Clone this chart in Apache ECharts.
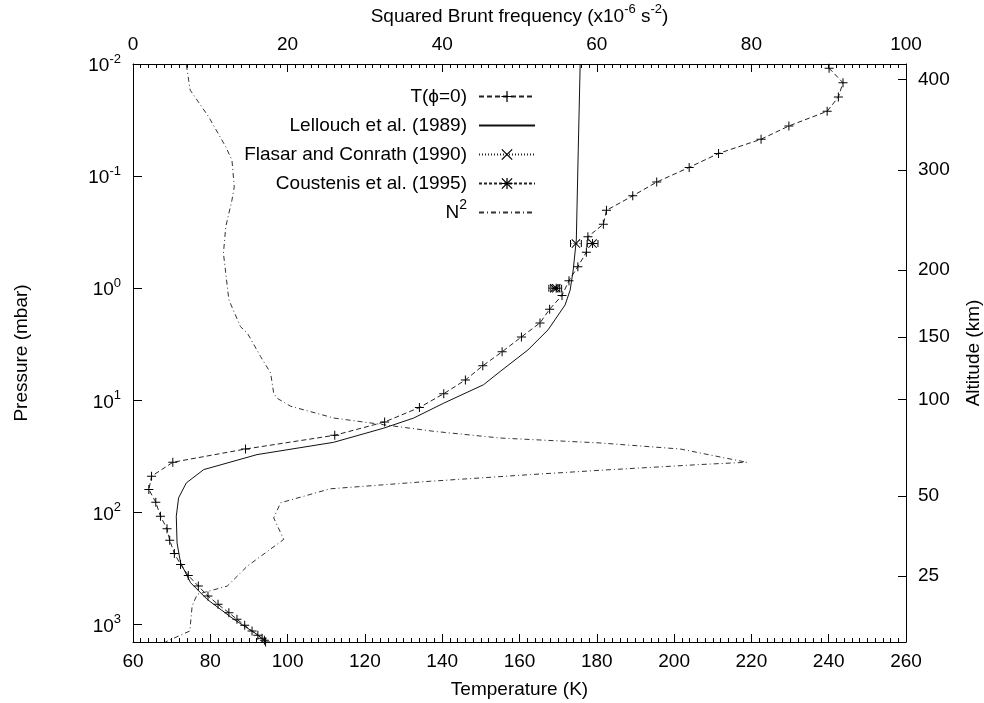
<!DOCTYPE html>
<html>
<head>
<meta charset="utf-8">
<script src="https://cdn.jsdelivr.net/npm/echarts@6/dist/echarts.min.js"></script>
<style>
  html, body { margin: 0; padding: 0; background: #fff; }
  #chart { width: 984px; height: 703px; }
</style>
</head>
<body>
<div id="chart"></div>
<script>
// Model temperature profile T(phi=0): temperature (K) and pressure (mbar)
const modelTemp = [240.1, 243.7, 242.5, 239.6, 229.7, 222.5, 211.5, 203.9, 195.5, 189.3,
  182.5, 181.7, 177.7, 177.3, 175.1, 172.8, 171.0, 167.8, 165.3, 160.5,
  155.5, 150.5, 146.0, 140.4, 134.1, 125.1, 112.2, 89.1, 70.3, 64.8,
  64.1, 65.9, 67.1, 68.8, 69.5, 70.7, 72.3, 74.3, 76.9, 79.4,
  82.0, 84.8, 86.9, 88.9, 90.8, 92.3, 93.4, 94.0, 94.3];
const modelPres = [0.0109, 0.0147, 0.0197, 0.0264, 0.0357, 0.0469, 0.0628, 0.0836, 0.113, 0.150,
  0.202, 0.269, 0.347, 0.478, 0.642, 0.856, 1.16, 1.54, 2.04, 2.72,
  3.69, 4.92, 6.59, 8.73, 11.6, 15.6, 20.5, 27.2, 35.7, 47.6,
  62.5, 81.1, 108, 140, 177, 232, 291, 365, 454, 557,
  661, 784, 899, 1017, 1143, 1249, 1327, 1380, 1430];

// Lellouch et al. (1989) profile
const lellouchTemp = [175.7, 175.2, 174.7, 173.9, 173.1, 171.8, 167.4, 162.2, 155.0, 150.7,
  140.4, 132.6, 124.9, 111.9, 92.1, 78.3, 73.8, 71.8, 71.2, 71.4,
  72.3, 74.9, 79.2, 86.1, 92.1, 94.4];
const lellouchPres = [0.01, 0.0588, 0.371, 0.687, 1.04, 1.41, 2.35, 3.55, 5.53, 7.26,
  10.6, 14.4, 17.7, 23.7, 30.5, 41.5, 54.5, 74.1, 108, 187,
  281, 424, 597, 899, 1225, 1430];

// Flasar and Conrath (1990) measurements with temperature error
const flasarTemp = [174.6, 169.0];
const flasarPres = [0.4, 1.0];
const flasarErr = [1.4, 1.4];

// Coustenis et al. (1995) measurements with temperature error
const coustenisTemp = [178.9, 169.5];
const coustenisPres = [0.4, 1.0];
const coustenisErr = [1.4, 1.4];

// Squared Brunt frequency N^2 (x10^-6 s^-2)
const bruntN2 = [6.9, 7.4, 9.8, 12.0, 12.8, 13.1, 12.8, 12.0, 11.7, 12.4,
  13.9, 14.8, 16.5, 17.8, 18.2, 18.6, 20.4, 26.0, 32.4, 38.9,
  47.5, 60.4, 70.8, 79.4, 73.4, 60.4, 51.4, 38.5, 25.5, 19.1,
  18.2, 19.5, 14.8, 12.2, 8.3, 7.65, 7.35, 4.2];
const bruntPres = [0.0102, 0.0171, 0.0297, 0.0548, 0.072, 0.1245, 0.164, 0.283, 0.488, 1.27,
  2.2, 2.52, 4.06, 5.71, 8.61, 9.55, 11.3, 14.4, 16.5, 18.9,
  21.7, 24.0, 27.2, 35.7, 37.4, 42.1, 46.0, 52.7, 61.6, 82,
  112, 174, 301, 454, 538, 684, 1143, 1430];

// Axis ticks
const pressureTicks = [0.01, 0.1, 1, 10, 100, 1000];
const altitudeLabels = [400, 300, 200, 150, 100, 50, 25];
const altitudePres = [0.01377, 0.0884, 0.687, 2.73, 9.88, 71.7, 370];

const FONT = '"Liberation Sans", Arial, Helvetica, sans-serif';
const INK = '#000';
const NO_FILL = 'rgba(0,0,0,0)';
const P_MIN = 0.01, P_MAX = 1432;

const PLUS = 'path://M0,4.45H10V5.55H0Z M4.45,0H5.55V10H4.45Z';
const CROSS = 'path://M0.8,0L10,9.2L9.2,10L0,0.8Z M9.2,0L10,0.8L0.8,10L0,9.2Z';
const STAR = 'path://M0,4.45H10V5.55H0Z M4.45,0H5.55V10H4.45Z M0.8,0L10,9.2L9.2,10L0,0.8Z M9.2,0L10,0.8L0.8,10L0,9.2Z';

function zip(xs, ys) { return xs.map((x, i) => [x, ys[i]]); }

// One short line series per measurement: cap, marker, cap
function errorSeries(name, temps, pres, errs, symbol, dash) {
  return temps.map((t, i) => ({
    name: name,
    type: 'line',
    xAxisIndex: 0, yAxisIndex: 0,
    symbol: symbol, symbolSize: 9,
    showSymbol: true,
    itemStyle: { color: INK },
    lineStyle: { color: '#222', width: 1, type: dash },
    emphasis: { disabled: true },
    data: [
      { value: [t - errs[i], pres[i]], symbol: 'rect', symbolSize: [1, 7] },
      { value: [t, pres[i]] },
      { value: [t + errs[i], pres[i]], symbol: 'rect', symbolSize: [1, 7] }
    ],
    z: 4
  }));
}

const supRich = {
  sup: { fontSize: 13, fontFamily: FONT, color: INK, verticalAlign: 'top' }
};

const chart = echarts.init(document.getElementById('chart'), null, { renderer: 'canvas' });

chart.setOption({
  animation: false,
  backgroundColor: '#fff',
  grid: { left: 133, right: 78, top: 64, bottom: 61, containLabel: false, outerBoundsMode: 'none' },
  legend: {
    orient: 'vertical',
    right: 448,
    top: 82,
    align: 'right',
    padding: 0,
    itemWidth: 56,
    itemHeight: 14,
    itemGap: 0,
    selectedMode: false,
    textStyle: {
      fontFamily: FONT, fontSize: 19, color: INK, lineHeight: 29,
      padding: [0, 7, 0, 0],
      rich: { sup: { fontSize: 14, fontFamily: FONT, color: INK, verticalAlign: 'top' } }
    },
    formatter: n => (n === 'N2' ? 'N{sup|2}' : n),
    data: ['T(\u03d5=0)', 'Lellouch et al. (1989)', 'Flasar and Conrath (1990)', 'Coustenis et al. (1995)', 'N2']
  },
  xAxis: [
    {
      type: 'value', position: 'bottom',
      min: 60, max: 260, interval: 20,
      name: 'Temperature (K)', nameLocation: 'middle', nameGap: 38,
      nameTextStyle: { fontFamily: FONT, fontSize: 19, color: INK, lineHeight: 20 },
      axisLine: { show: true, lineStyle: { color: INK, width: 1 } },
      axisTick: { show: true, inside: true, length: 8, lineStyle: { color: INK, width: 1 } },
      minorTick: { show: true, splitNumber: 10, length: 4, lineStyle: { color: INK, width: 1 } },
      axisLabel: { fontFamily: FONT, fontSize: 19, color: INK, margin: 10 },
      splitLine: { show: false }
    },
    {
      type: 'value', position: 'top',
      min: 0, max: 100, interval: 20,
      name: 'Squared Brunt frequency (x10{sup|-6} s{sup|-2})', nameLocation: 'middle', nameGap: 30,
      nameTextStyle: { fontFamily: FONT, fontSize: 19, color: INK, lineHeight: 27, rich: supRich },
      axisLine: { show: true, lineStyle: { color: INK, width: 1 } },
      axisTick: { show: true, inside: true, length: 8, lineStyle: { color: INK, width: 1 } },
      minorTick: { show: true, splitNumber: 20, length: 4, lineStyle: { color: INK, width: 1 } },
      axisLabel: { fontFamily: FONT, fontSize: 19, color: INK, margin: 10 },
      splitLine: { show: false }
    }
  ],
  yAxis: [
    {
      type: 'log', logBase: 10, position: 'left', inverse: true,
      min: P_MIN, max: P_MAX,
      name: 'Pressure (mbar)', nameLocation: 'middle', nameGap: 101, nameRotate: 90,
      nameTextStyle: { fontFamily: FONT, fontSize: 19, color: INK, lineHeight: 20 },
      axisLine: { show: true, lineStyle: { color: INK, width: 1 } },
      axisTick: { show: true, inside: true, length: 9, customValues: pressureTicks, lineStyle: { color: INK, width: 1 } },
      minorTick: { show: false },
      axisLabel: {
        customValues: pressureTicks,
        fontFamily: FONT, fontSize: 19, color: INK, margin: 12, lineHeight: 27,
        padding: [4, 0, 0, 0],
        formatter: v => '10{sup|' + Math.round(Math.log10(v)) + '}',
        rich: supRich
      },
      splitLine: { show: false }
    },
    {
      type: 'log', logBase: 10, position: 'right', inverse: true,
      min: P_MIN, max: P_MAX,
      name: 'Altitude (km)', nameLocation: 'middle', nameGap: 58, nameRotate: 90,
      nameTextStyle: { fontFamily: FONT, fontSize: 19, color: INK, lineHeight: 20 },
      axisLine: { show: true, lineStyle: { color: INK, width: 1 } },
      axisTick: { show: true, inside: true, length: 8, customValues: altitudePres, lineStyle: { color: INK, width: 1 } },
      minorTick: { show: false },
      axisLabel: {
        customValues: altitudePres,
        fontFamily: FONT, fontSize: 19, color: INK, margin: 12,
        formatter: v => {
          let best = 0, bestD = Infinity;
          altitudePres.forEach((p, i) => {
            const d = Math.abs(Math.log10(p) - Math.log10(v));
            if (d < bestD) { bestD = d; best = i; }
          });
          return String(altitudeLabels[best]);
        }
      },
      splitLine: { show: false }
    }
  ],
  series: [
    {
      name: 'T(\u03d5=0)', type: 'line', xAxisIndex: 0, yAxisIndex: 0,
      symbol: PLUS, symbolSize: 9, showSymbol: true, showAllSymbol: true,
      itemStyle: { color: INK },
      lineStyle: { color: '#222', width: 1, type: [5, 3] },
      emphasis: { disabled: true },
      data: zip(modelTemp, modelPres), z: 3
    },
    {
      name: 'Lellouch et al. (1989)', type: 'line', xAxisIndex: 0, yAxisIndex: 0,
      symbol: 'circle', symbolSize: 0, showSymbol: false,
      itemStyle: { color: NO_FILL },
      lineStyle: { color: '#111', width: 1, type: 'solid' },
      emphasis: { disabled: true },
      data: zip(lellouchTemp, lellouchPres), z: 3
    },
    ...errorSeries('Flasar and Conrath (1990)', flasarTemp, flasarPres, flasarErr, CROSS, [1, 2]),
    ...errorSeries('Coustenis et al. (1995)', coustenisTemp, coustenisPres, coustenisErr, STAR, [3, 2]),
    {
      name: 'N2', type: 'line', xAxisIndex: 1, yAxisIndex: 0,
      symbol: 'circle', symbolSize: 0, showSymbol: false,
      itemStyle: { color: NO_FILL },
      lineStyle: { color: '#333', width: 1, type: [5, 3, 1, 3] },
      emphasis: { disabled: true },
      data: zip(bruntN2, bruntPres), z: 2
    }
  ]
});
</script>
</body>
</html>
